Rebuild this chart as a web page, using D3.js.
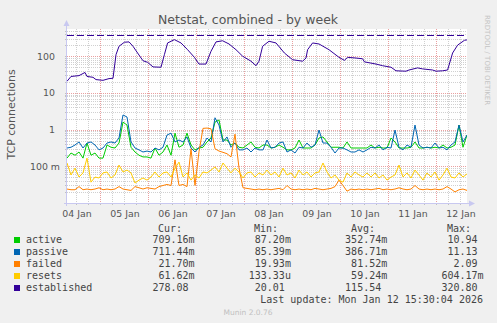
<!DOCTYPE html>
<html>
<head>
<meta charset="utf-8">
<script src="https://cdn.jsdelivr.net/npm/d3@7"></script>
<style>
  html, body { margin: 0; padding: 0; background: #f0f0f0; }
  svg { display: block; }
  text { font-family: "DejaVu Sans", sans-serif; }
  .mono { font-family: "DejaVu Sans Mono", monospace; white-space: pre; }
</style>
</head>
<body>
<svg id="chart" width="497" height="323"></svg>
<script>
// munin "netstat" week graph, 30 min resolution, sampled every 2 hours from the start
var startTime = Date.UTC(2026, 0, 4, 7, 30);
var stepHours = 2;

var active = [0.167,0.23,0.20,0.245,0.167,0.43,0.20,0.23,0.167,0.167,
  0.38,0.33,0.315,0.43,1.6,1.33,0.33,0.245,0.20,0.18,
  0.18,0.167,0.315,0.20,0.245,0.38,0.20,0.80,0.33,0.38,
  0.80,0.38,0.28,0.315,0.33,0.46,0.59,1.6,1.83,0.52,
  0.52,0.38,0.43,0.33,0.315,0.38,0.46,0.33,0.315,0.38,
  0.38,0.315,0.33,0.38,0.33,0.28,0.28,0.315,0.52,0.315,
  0.315,0.315,0.38,0.59,0.63,0.46,0.33,0.33,0.33,0.315,
  0.46,0.315,0.315,0.315,0.315,0.315,0.38,0.315,0.33,0.315,
  0.315,0.59,0.46,0.315,0.315,0.315,0.33,0.46,0.315,0.315,
  0.33,0.315,0.33,0.315,0.38,0.315,0.33,0.38,1.33,0.33,0.71];

var passive = [0.315,0.33,0.38,0.46,0.315,0.43,0.46,0.38,0.28,0.315,
  0.43,0.46,0.43,0.59,2.5,2.2,0.46,0.315,0.28,0.245,
  0.26,0.245,0.315,0.28,0.33,0.71,0.80,0.46,0.52,0.46,
  0.63,0.315,0.245,0.33,0.38,0.59,0.46,2.1,1.33,0.46,
  0.63,0.33,0.43,0.28,0.28,0.315,0.245,0.315,0.28,0.28,
  0.52,0.315,0.33,0.43,0.46,0.245,0.28,0.23,0.33,0.315,
  0.43,0.33,0.38,0.97,0.43,0.43,0.33,0.23,0.315,0.315,
  0.28,0.245,0.245,0.28,0.245,0.28,0.33,0.315,0.38,0.28,
  0.33,0.315,0.97,0.33,0.28,0.38,0.33,1.33,0.38,0.315,
  0.33,0.315,0.43,0.315,0.33,0.28,0.38,0.46,1.33,0.46,0.71];

var failed = [0.024,0.023,0.023,0.028,0.023,0.024,0.023,0.024,0.026,0.023,
  0.024,0.023,0.024,0.028,0.024,0.023,0.022,0.028,0.026,0.024,
  0.026,0.025,0.024,0.028,0.030,0.032,0.030,0.15,0.030,0.032,
  0.028,0.30,0.030,0.25,1.08,1.10,1.05,0.30,0.26,0.24,
  0.22,0.18,0.75,0.09,0.026,0.025,0.024,0.023,0.024,0.023,
  0.024,0.023,0.024,0.025,0.023,0.030,0.024,0.023,0.024,0.023,
  0.024,0.023,0.025,0.024,0.023,0.024,0.025,0.028,0.042,0.030,
  0.021,0.024,0.023,0.024,0.023,0.024,0.023,0.024,0.025,0.023,
  0.024,0.023,0.024,0.026,0.024,0.023,0.024,0.030,0.024,0.023,
  0.024,0.023,0.024,0.023,0.024,0.028,0.024,0.020,0.023,0.024,0.022];

var resets = [0.123,0.058,0.089,0.051,0.066,0.167,0.037,0.051,0.048,0.066,
  0.070,0.048,0.058,0.108,0.070,0.079,0.066,0.035,0.042,0.048,
  0.042,0.051,0.070,0.051,0.066,0.070,0.051,0.089,0.13,0.051,
  0.066,0.042,0.058,0.048,0.070,0.066,0.079,0.096,0.070,0.123,
  0.089,0.066,0.089,0.070,0.048,0.066,0.070,0.051,0.066,0.058,
  0.079,0.058,0.070,0.051,0.089,0.058,0.066,0.048,0.079,0.058,
  0.070,0.051,0.066,0.070,0.123,0.070,0.048,0.058,0.042,0.037,
  0.066,0.051,0.070,0.058,0.051,0.066,0.051,0.066,0.048,0.058,
  0.042,0.051,0.058,0.108,0.051,0.066,0.048,0.079,0.058,0.042,
  0.066,0.051,0.070,0.042,0.058,0.089,0.051,0.048,0.066,0.051,0.062];

// established is smooth, read at irregular times (hours after start)
var estHours = [0,2,6,9,10,13,14.5,18,21,23,24.5,26,28.7,31,33,35.3,38,40.3,43,47,
  48.7,50.3,53.7,57,60.3,63.7,66,69.5,72,74.5,77.8,81,84.5,87.8,92,94.5,96,97.8,101,104.5,
  108.7,112.8,117.8,119.5,120.3,122.8,126,131,136,138.7,140.3,144.5,147.8,148.7,154.5,157.8,162,164.5,169.5,171,
  175.3,177.8,182.8,184.5,187.8,190.3,192.8,195.3,198.7,200];
var estValues = [20.7,28,29.5,36,28,26.6,23,22,24.5,25,110,186,240,245,186,122,75,68,51,50,
  110,229,282,229,150,93,61,61,136,245,263,215,150,100,73,55,73,186,255,229,
  122,80,73,89,150,229,215,150,93,77,93,89,85,70,61,55,50,40,39,42,
  48,45,42,39,40,42,122,200,270,278];
var estLimit = 380;

var seriesNames = ["active", "passive", "failed", "resets", "established"];
var seriesColors = ["#00cc00", "#0066b3", "#ff8000", "#ffcc00", "#330099"];
var curVals = ["709.16m", "711.44m", "21.70m", "61.62m", "278.08 "];
var minVals = ["87.20m", "85.39m", "19.93m", "133.33u", "20.01 "];
var avgVals = ["352.74m", "386.71m", "81.52m", "59.24m", "115.54 "];
var maxVals = ["10.94 ", "11.13 ", "2.09 ", "604.17m", "320.80 "];

var yTickValues = [0.1, 1, 10, 100];
var yTickLabels = ["100 m", "1", "10", "100"];

var hour = 3600 * 1000;
var endTime = startTime + (active.length - 1) * stepHours * hour;

var svg = d3.select("#chart");
svg.append("rect").attr("width", 497).attr("height", 323).attr("fill", "#f0f0f0");

var plotLeft = 67, plotRight = 467, plotTop = 29, plotBottom = 203;

var x = d3.scaleUtc().domain([startTime, endTime]).range([plotLeft, plotRight]);
var y = d3.scaleLog().domain([0.01, 550]).range([plotBottom, plotTop]);

svg.append("rect")
  .attr("x", plotLeft).attr("y", plotTop)
  .attr("width", plotRight - plotLeft).attr("height", plotBottom - plotTop)
  .attr("fill", "#ffffff");

// grid
var minorY = [];
[0.01, 0.1, 1, 10, 100].forEach(function(d) {
  for (var k = 2; k <= 9; k++) {
    if (d * k < 550) minorY.push(d * k);
  }
});
var sixHours = d3.utcHour.every(6).range(startTime, endTime).filter(function(t) {
  return t.getUTCHours() !== 0;
});
var midnights = d3.utcDay.range(startTime, endTime);

function py(d) { return Math.round(y(d)) + 0.5; }
function px(d) { return Math.round(x(d)) + 0.5; }

var grid = svg.append("g").attr("shape-rendering", "crispEdges");
grid.selectAll(".hmin").data(minorY).enter().append("line")
  .attr("x1", plotLeft).attr("x2", plotRight)
  .attr("y1", py).attr("y2", py)
  .attr("stroke", "#d0d0d0").attr("stroke-dasharray", "1,1");
grid.selectAll(".vmin").data(sixHours).enter().append("line")
  .attr("y1", plotTop).attr("y2", plotBottom)
  .attr("x1", px).attr("x2", px)
  .attr("stroke", "#d0d0d0").attr("stroke-dasharray", "1,1");
grid.selectAll(".hmaj").data(yTickValues).enter().append("line")
  .attr("x1", plotLeft).attr("x2", plotRight)
  .attr("y1", py).attr("y2", py)
  .attr("stroke", "#eaa0a0").attr("stroke-dasharray", "1,1");
grid.selectAll(".vmaj").data(midnights).enter().append("line")
  .attr("y1", plotTop).attr("y2", plotBottom)
  .attr("x1", px).attr("x2", px)
  .attr("stroke", "#eaa0a0").attr("stroke-dasharray", "1,1");

// axis ticks outside the plot
grid.selectAll(".ytk").data(minorY.concat(yTickValues)).enter().append("line")
  .attr("x1", plotLeft - 2).attr("x2", plotLeft)
  .attr("y1", py).attr("y2", py)
  .attr("stroke", "#c0c0c0");
grid.selectAll(".xtk").data(sixHours.concat(midnights)).enter().append("line")
  .attr("y1", plotBottom).attr("y2", plotBottom + 2)
  .attr("x1", px).attr("x2", px)
  .attr("stroke", "#c0c0c0");

// axis lines with arrows
var axisColor = "#c8c8f0";
grid.append("line").attr("x1", plotLeft - 0.5).attr("x2", plotLeft - 0.5)
  .attr("y1", plotBottom + 3).attr("y2", plotTop - 7)
  .attr("stroke", axisColor);
grid.append("line").attr("x1", plotLeft - 3).attr("x2", plotRight + 3)
  .attr("y1", plotBottom + 0.5).attr("y2", plotBottom + 0.5)
  .attr("stroke", axisColor);
svg.append("path")
  .attr("d", "M" + (plotLeft - 3.5) + "," + (plotTop - 3) + "L" + (plotLeft - 0.5) + "," + (plotTop - 9) +
    "L" + (plotLeft + 2.5) + "," + (plotTop - 3) + "Z")
  .attr("fill", axisColor);
svg.append("path")
  .attr("d", "M" + (plotRight + 2) + "," + (plotBottom - 2.5) + "L" + (plotRight + 8) + "," + (plotBottom + 0.5) +
    "L" + (plotRight + 2) + "," + (plotBottom + 3.5) + "Z")
  .attr("fill", axisColor);

// tick labels
svg.selectAll(".ylab").data(yTickValues).enter().append("text")
  .attr("x", function(d, i) { return yTickLabels[i].indexOf("m") > 0 ? 60 : 55; })
  .attr("y", function(d) { return y(d) + 3.5; })
  .attr("text-anchor", "end")
  .attr("font-size", "9.4px").attr("fill", "#555")
  .text(function(d, i) { return yTickLabels[i]; });

var noons = midnights.map(function(d) { return new Date(+d - 12 * hour); })
  .concat([new Date(+midnights[midnights.length - 1] + 12 * hour)]);
svg.selectAll(".xlab").data(noons).enter().append("text")
  .attr("x", function(d) { return x(d) + 1; })
  .attr("y", 216.5)
  .attr("text-anchor", "middle")
  .attr("font-size", "9.4px").attr("fill", "#555")
  .text(d3.utcFormat("%d %b"));

// series
svg.append("clipPath").attr("id", "plotclip").append("rect")
  .attr("x", plotLeft).attr("y", plotTop)
  .attr("width", plotRight - plotLeft).attr("height", plotBottom - plotTop);

var line = d3.line()
  .x(function(d) { return x(d[0]); })
  .y(function(d) { return y(d[1]); });

function uniform(values) {
  return values.map(function(v, i) { return [startTime + i * stepHours * hour, v]; });
}
var established = estHours.map(function(h, i) { return [startTime + h * hour, estValues[i]]; });
var seriesData = [uniform(active), uniform(passive), uniform(failed), uniform(resets), established];

var lines = svg.append("g").attr("clip-path", "url(#plotclip)");
seriesData.forEach(function(data, i) {
  lines.append("path")
    .datum(data)
    .attr("fill", "none")
    .attr("stroke", seriesColors[i])
    .attr("stroke-width", 1)
    .attr("stroke-linejoin", "round")
    .attr("d", line);
});
lines.append("line")
  .attr("x1", plotLeft).attr("x2", plotRight)
  .attr("y1", py(estLimit)).attr("y2", py(estLimit))
  .attr("stroke", "#330099").attr("stroke-width", 1)
  .attr("stroke-dasharray", "7,3");

// titles
svg.append("text").attr("x", 248).attr("y", 23.5).attr("text-anchor", "middle")
  .attr("font-size", "12.5px").attr("fill", "#555").text("Netstat, combined - by week");
svg.append("text").attr("transform", "translate(15,114.5) rotate(-90)")
  .attr("text-anchor", "middle").attr("font-size", "11px").attr("fill", "#555")
  .text("TCP connections");
svg.append("text").attr("transform", "translate(485,15) rotate(90)")
  .attr("font-size", "7px").attr("fill", "#c4c4c4")
  .text("RRDTOOL / TOBI OETIKER");

// legend
var heads = ["Cur:", "Min:", "Avg:", "Max:"];
var headX = [158, 254, 351, 447];
svg.selectAll(".head").data(heads).enter().append("text")
  .attr("class", "mono").attr("x", function(d, i) { return headX[i]; }).attr("y", 231.5)
  .attr("font-size", "10px").attr("fill", "#444").text(function(d) { return d; });

function padL(s, n) { while (s.length < n) s = " " + s; return s; }
function padR(s, n) { while (s.length < n) s = s + " "; return s; }

seriesNames.forEach(function(name, i) {
  var yy = 243 + i * 12;
  svg.append("rect").attr("x", 14).attr("y", yy - 6).attr("width", 6).attr("height", 6)
    .attr("fill", seriesColors[i]);
  svg.append("text").attr("class", "mono").attr("x", 26).attr("y", yy)
    .attr("font-size", "10px").attr("fill", "#444")
    .text(padR(name, 21) + padL(curVals[i], 7) + padL(minVals[i], 16) + padL(avgVals[i], 16) + padL(maxVals[i], 16));
});
svg.append("text").attr("class", "mono").attr("x", 483).attr("y", 302.5).attr("text-anchor", "end")
  .attr("font-size", "10px").attr("fill", "#444").text("Last update: Mon Jan 12 15:30:04 2026");
svg.append("text").attr("x", 248).attr("y", 315).attr("text-anchor", "middle")
  .attr("font-size", "7.5px").attr("fill", "#c0c0c0").text("Munin 2.0.76");
</script>
</body>
</html>
